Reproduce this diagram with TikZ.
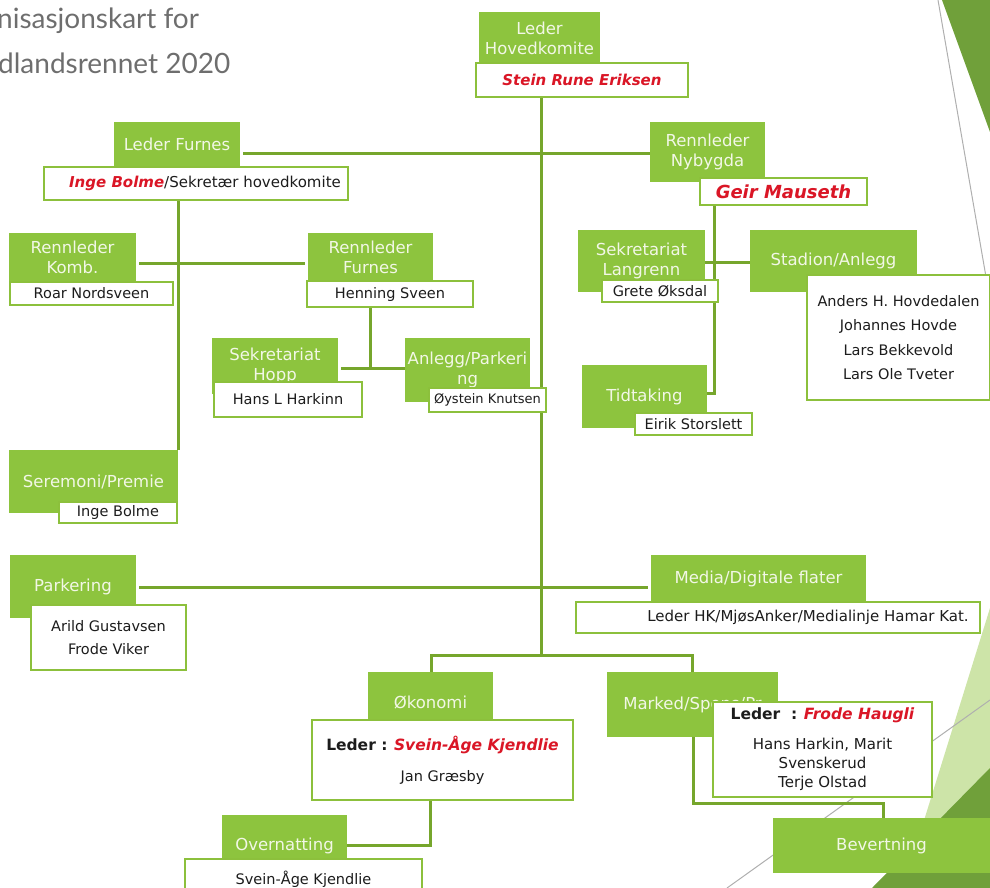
\documentclass[tikz,border=0pt]{standalone}
\usepackage{fontspec}
\setmainfont{DejaVu Sans}
\newfontfamily\titlefont{Lato}
\usetikzlibrary{backgrounds}
\definecolor{gfill}{RGB}{141,196,62}
\definecolor{gborder}{RGB}{140,192,60}
\definecolor{gline}{RGB}{118,166,44}
\definecolor{htext}{RGB}{242,247,230}
\definecolor{btext}{RGB}{28,28,28}
\definecolor{rtext}{RGB}{218,22,38}
\definecolor{ttext}{RGB}{110,110,110}
\definecolor{decogreen}{RGB}{112,160,58}
\definecolor{decolight}{RGB}{205,228,168}
\definecolor{decoline}{RGB}{175,175,175}
\newcommand\hf{\fontsize{16.5}{20}\selectfont}
\newcommand\bodyf{\fontsize{14.5}{19}\selectfont}
\newcommand\rn[1]{\textcolor{rtext}{\bfseries\itshape #1}}
\begin{document}
\begin{tikzpicture}[x=1pt,y=-1pt,
  gbox/.style={fill=gfill, draw=none, text=htext, font=\hf, align=center, inner sep=0pt},
  wbox/.style={fill=white, draw=gborder, line width=2.4pt, text=btext, font=\bodyf, align=center, inner sep=0pt},
  conn/.style={draw=gline, line width=3pt},
  sz/.style 2 args={minimum width=#1pt, minimum height=#2pt},
  ttl/.style={anchor=base west, font=\titlefont\fontsize{28}{32}\selectfont, text=ttext, inner sep=0pt}]
\useasboundingbox (0,0) rectangle (990,888);
\clip (0,0) rectangle (990,888);
\begin{pgfonlayer}{background}
\fill[decolight] (990,608) -- (990,888) -- (903,888) -- cycle;
\fill[decogreen] (990,768) -- (990,888) -- (872,888) -- cycle;
\fill[decogreen] (942,0) -- (990,0) -- (990,132) -- cycle;
\draw[decoline, line width=1pt] (938,0) -- (990,300);
\draw[decoline, line width=1pt] (727,888) -- (990,700);
\end{pgfonlayer}

% title
\node[ttl] (t1) at (-3,29) {nisasjonskart for};
\node[ttl] (t2) at (-2,74) {dlandsrennet 2020};

% top
\node[gbox, sz={121}{53}] (lhk) at (539.5,38.5) {Leder\\Hovedkomite};
\node[wbox, sz={212}{34}, font=\fontsize{15}{18}\selectfont] (stein) at (582,80) {\rn{Stein Rune Eriksen}};

\node[gbox, sz={126}{45}] (lfur) at (177,144.5) {Leder Furnes};
\node[wbox, sz={304}{33}, font=\fontsize{15}{18}\selectfont] (lfurw) at (196,183.5) {\hspace*{18pt}\rn{Inge Bolme}/Sekretær hovedkomite};

\node[gbox, sz={115}{60}] (nyb) at (707.5,152) {Rennleder\\Nybygda};
\node[wbox, sz={167}{27}, font=\fontsize{18}{21}\selectfont] (geir) at (783.5,191.5) {\rn{Geir Mauseth}};

% left middle
\node[gbox, sz={127}{49}] (komb) at (72.5,257.5) {Rennleder\\Komb.};
\node[wbox, sz={163}{23}] (roar) at (91.5,293.5) {Roar Nordsveen};

\node[gbox, sz={125}{49}] (rfur) at (370.5,257.5) {Rennleder\\Furnes};
\node[wbox, sz={166}{26}] (henning) at (390,294) {Henning Sveen};

\node[gbox, sz={126}{56}] (hopp) at (275,366) {Sekretariat\\Hopp};
\node[wbox, sz={148}{35}] (hans) at (288,399.5) {Hans L Harkinn};

\node[gbox, sz={125}{64}] (anl) at (467.5,370) {Anlegg/Parkeri\\ng};
\node[wbox, sz={117}{24}, font=\fontsize{13}{16}\selectfont] (oys) at (487.5,400) {Øystein Knutsen};

% right middle
\node[gbox, sz={127}{62}] (lang) at (641.5,261) {Sekretariat\\Langrenn};
\node[wbox, sz={116}{22}] (grete) at (660,291) {Grete Øksdal};

\node[gbox, sz={167}{62}] (stad) at (833.5,261) {Stadion/Anlegg};
\node[wbox, sz={183}{125}, font=\fontsize{14.5}{24.3}\selectfont] (stadw) at (898.5,337.5) {Anders H. Hovdedalen\\Johannes Hovde\\Lars Bekkevold\\Lars Ole Tveter};

\node[gbox, sz={125}{63}] (tid) at (644.5,396.5) {Tidtaking};
\node[wbox, sz={117}{22}] (eirik) at (693.5,424) {Eirik Storslett};

\node[gbox, sz={169}{63}] (sere) at (93.5,481.5) {Seremoni/Premie};
\node[wbox, sz={118}{21}] (ingeb) at (118,512.5) {Inge Bolme};

\node[gbox, sz={126}{63}] (park) at (73,586.5) {Parkering};
\node[wbox, sz={155}{65}, font=\fontsize{14.5}{23}\selectfont] (parkw) at (108.5,637.5) {Arild Gustavsen\\Frode Viker};

\node[gbox, sz={215}{48}] (media) at (758.5,579) {Media/Digitale flater};
\node[wbox, sz={404}{31}, font=\fontsize{15}{18}\selectfont] (mediaw) at (778,617.5) {\hspace*{60pt}Leder HK/MjøsAnker/Medialinje Hamar Kat.};

% bottom
\node[gbox, sz={125}{61}] (oko) at (430.5,702.5) {Økonomi};
\node[wbox, sz={261}{80}, font=\fontsize{15.5}{19}\selectfont] (okow) at (442.5,760) {\textbf{Leder :} \rn{Svein-Åge Kjendlie}\\[12pt]{\fontsize{14.5}{19}\selectfont Jan Græsby}};

\node[gbox, sz={125}{62}] (over) at (284.5,846) {Overnatting};
\node[wbox, sz={237}{41}] (overw) at (303.5,879.5) {Svein-Åge Kjendlie};

\node[gbox, sz={171}{65}] (mark) at (692.5,704.5) {Marked/Spons/Pr};
\node[wbox, sz={219}{95}, font=\fontsize{15}{19}\selectfont] (markw) at (822.5,749.5) {{\fontsize{15.5}{19}\selectfont\textbf{Leder\ \ :} \rn{Frode Haugli}}\\[11pt]Hans Harkin, Marit\\Svenskerud\\Terje Olstad};

\node[gbox, sz={217}{55}] (bev) at (881.5,845.5) {Bevertning};

% connectors
\coordinate (j1) at (541,655);
\coordinate (h1) at (541,153);
\coordinate (v1) at (178,447);
\coordinate (h2) at (177,263);
\coordinate (h3) at (370,368);
\coordinate (v2) at (714,393);
\coordinate (h4) at (714,262);
\coordinate (h5) at (541,587);
\coordinate (b1) at (431,655);
\coordinate (b2) at (692,655);
\coordinate (c1) at (430,845);
\coordinate (c2) at (693,803);
\coordinate (c3) at (883,803);
\begin{pgfonlayer}{background}
\draw[conn] (stein.south -| j1) -- (j1);
\draw[conn, shorten <=3pt] (lfur.east |- h1) -- (nyb.west |- h1);
\draw[conn] (lfurw.south -| v1) -- (sere.north -| v1);
\draw[conn, shorten <=3pt, shorten >=3pt] (komb.east |- h2) -- (rfur.west |- h2);
\draw[conn] (henning.south -| h3) -- (h3);
\draw[conn, shorten <=3pt] (hopp.east |- h3) -- (anl.west |- h3);
\draw[conn] (geir.south -| v2) -- (v2) -- (tid.east |- v2);
\draw[conn] (lang.east |- h4) -- (stad.west |- h4);
\draw[conn, shorten <=3pt, shorten >=3pt] (park.east |- h5) -- (media.west |- h5);
\draw[conn] (oko.north -| b1) -- (b1) -- (b2) -- (mark.north -| b2);
\draw[conn] (okow.south -| c1) -- (c1) -- (over.east |- c1);
\draw[conn] (mark.south -| c2) -- (c2) -- (c3) -- (bev.north -| c3);
\end{pgfonlayer}
\end{tikzpicture}
\end{document}
